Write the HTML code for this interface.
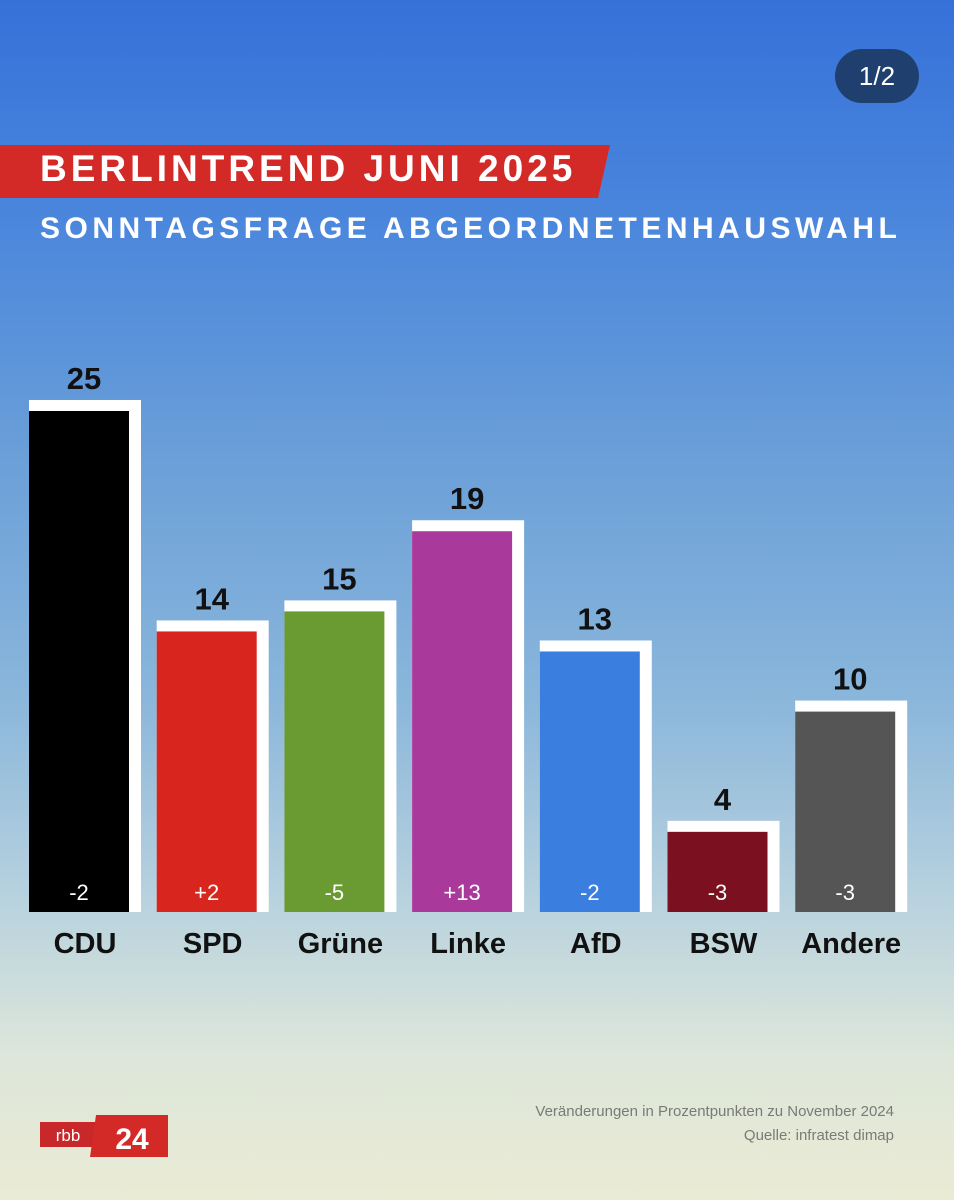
<!DOCTYPE html>
<html><head><meta charset="utf-8"><style>
html,body{margin:0;padding:0}
body{width:954px;height:1200px;position:relative;overflow:hidden;font-family:"Liberation Sans",sans-serif;
background:linear-gradient(180deg,#3671d9 0%,#4a86dc 18%,#6a9fd8 38%,#8ab6db 58%,#b8d2de 75%,#dde6da 88%,#eaebd4 100%)}
.badge{position:absolute;left:835px;top:49px;width:84px;height:54px;border-radius:27px;background:#1f3f6e;color:#fff;font-size:26px;text-align:center;line-height:54px}
.banner{position:absolute;left:0;top:145px;width:610px;height:53px}
.t1{position:absolute;left:40px;top:148px;color:#fff;font-weight:bold;font-size:37px;letter-spacing:4px}
.t2{position:absolute;left:40px;top:212px;color:#fff;font-weight:bold;font-size:30px;letter-spacing:4.5px}
.foot{position:absolute;right:60px;color:#7a7a78;font-size:15px;text-align:right}
</style></head><body>
<div class="badge">1/2</div>
<svg class="banner" viewBox="0 0 610 53"><polygon points="0,0 610,0 598,53 0,53" fill="#d42a27"/></svg>
<div class="t1">BERLINTREND JUNI 2025</div>
<div class="t2">SONNTAGSFRAGE ABGEORDNETENHAUSWAHL</div>
<svg id="chart" width="954" height="1200" style="position:absolute;left:0;top:0"></svg>
<div class="foot" style="top:1103px">Veränderungen in Prozentpunkten zu November 2024</div>
<div class="foot" style="top:1127px">Quelle: infratest dimap</div>
<svg style="position:absolute;left:40px;top:1113px" width="130" height="46">
<rect x="0" y="9" width="56" height="25" fill="#c8282a"/>
<text x="28" y="28" fill="#fff" font-size="17" text-anchor="middle" font-family="Liberation Sans">rbb</text>
<polygon points="56,2 128,2 128,44 50,44" fill="#d42a27"/>
<text x="92" y="36" fill="#fff" font-size="30" font-weight="bold" text-anchor="middle" font-family="Liberation Sans">24</text>
</svg>
<script>
const categories=["CDU","SPD","Grüne","Linke","AfD","BSW","Andere"];
const values=[25,14,15,19,13,4,10];
const changes=["-2","+2","-5","+13","-2","-3","-3"];
const colors=["#000000","#d8261f","#6a9a32","#a93a9c","#3a7fe0","#7a1020","#555555"];
const NS="http://www.w3.org/2000/svg";
const svg=document.getElementById("chart");
const base=912, scale=20.04, x0=29, step=127.7, bw=100;
function xPos(i){return x0+i*step;}
function yPos(v){return base-v*scale;}
function mk(tag,attrs){const e=document.createElementNS(NS,tag);for(const k in attrs)e.setAttribute(k,attrs[k]);svg.appendChild(e);return e;}
categories.forEach((c,i)=>{
 const x=xPos(i), y=yPos(values[i]);
 const f=mk("rect",{x:x,y:y-11,width:bw+12,height:base-y+11,fill:"#fff"});
 
 
 const b=mk("rect",{x:x,y:y,width:bw,height:base-y,fill:colors[i]});
 
 
 const v=mk("text",{x:x+bw/2+5,y:y-22,"text-anchor":"middle","font-size":"31","font-weight":"bold",fill:"#111"});
 v.textContent=values[i];
 
 
 const ch=mk("text",{x:x+bw/2,y:base-12,"text-anchor":"middle","font-size":"22",fill:"#fff"});
 ch.textContent=changes[i];
 
 
 const cl=mk("text",{x:x+bw/2+6,y:953,"text-anchor":"middle","font-size":"29","font-weight":"bold",fill:"#111"});
 cl.textContent=c;
 
 
});
</script>
</body></html>
